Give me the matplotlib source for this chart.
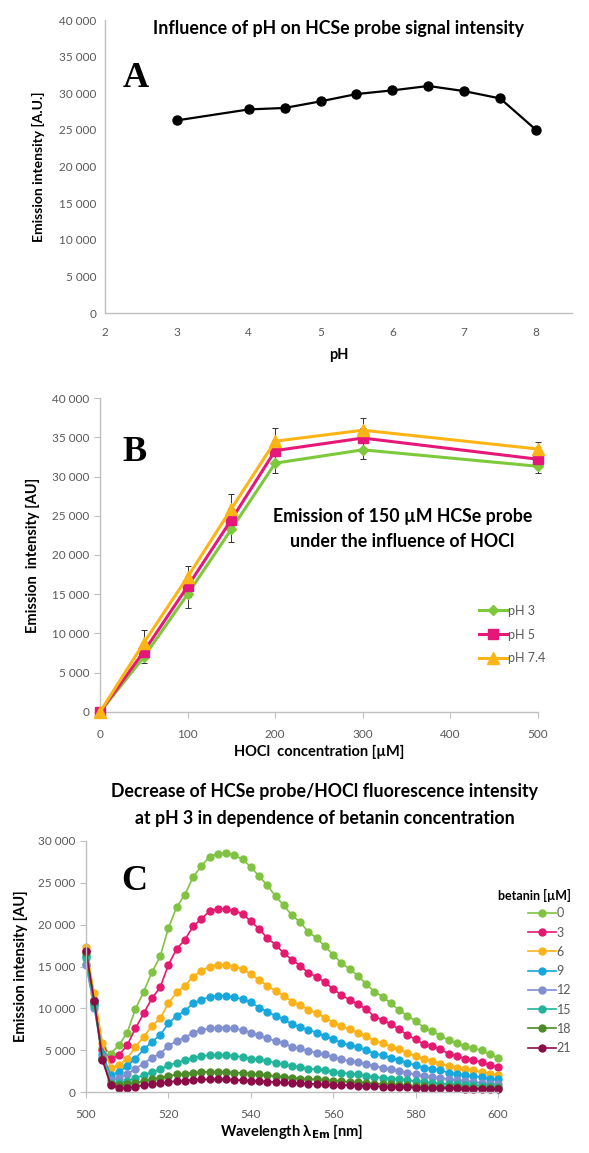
import matplotlib
matplotlib.use("Agg")
import matplotlib.pyplot as plt
from matplotlib.ticker import FuncFormatter, MultipleLocator

plt.rcParams['font.family'] = ['Lato', 'DejaVu Sans']

# ---------------- Panel A data ----------------
ph_values = [3, 4, 4.5, 5, 5.5, 6, 6.5, 7, 7.5, 8]
ph_intensity = [26300, 27800, 28000, 28900, 29900, 30400, 31000, 30300, 29300, 25000]

# ---------------- Panel B data ----------------
hocl_conc = [0, 50, 100, 150, 200, 300, 500]
b_ph3 = [0, 7000, 15000, 23300, 31700, 33400, 31300]
b_ph5 = [0, 7700, 16000, 24500, 33300, 34900, 32200]
b_ph74 = [0, 8800, 17200, 25900, 34500, 35900, 33500]
err_ph3 = [0, 800, 1700, 1600, 1200, 1200, 900]
err_ph5 = [0, 1000, 1300, 1500, 1300, 1300, 1000]
err_ph74 = [0, 1600, 1400, 1900, 1700, 1500, 900]
b_labels = ['pH 3', 'pH 5', 'pH 7.4']

# ---------------- Panel C data ----------------
wavelength = list(range(500, 602, 2))
betanin_labels = ['0', '3', '6', '9', '12', '15', '18', '21']
c_0 = [15300, 10500, 5300, 4600, 5600, 7100, 9900, 12000, 14300, 16200, 19600, 22100, 23600, 25700,
       27000, 28100, 28500, 28600, 28300, 27800, 26900, 25800, 24700, 23400, 22300, 21100, 20300,
       19100, 18400, 17400, 16400, 15400, 14700, 13900, 12900, 12000, 11400, 10600, 9800, 9100,
       8500, 7700, 7300, 6700, 6200, 5800, 5500, 5200, 5000, 4500, 4100]
c_3 = [16800, 11000, 5000, 3900, 4400, 5600, 7600, 9400, 11200, 12500, 15200, 17100, 18200, 19800,
       20700, 21600, 21900, 21900, 21600, 21300, 20400, 19500, 18400, 17600, 16600, 15800, 15100,
       14200, 13800, 13100, 12300, 11600, 11000, 10500, 9900, 9000, 8600, 8100, 7500, 6800,
       6300, 5700, 5500, 5100, 4600, 4300, 4000, 3800, 3600, 3200, 3000]
c_6 = [17300, 11800, 5800, 2900, 3200, 4000, 5400, 6600, 7900, 8800, 10600, 11900, 12700, 13800,
       14500, 15000, 15200, 15200, 15000, 14700, 14100, 13400, 12700, 12100, 11500, 10800, 10400,
       9800, 9400, 8900, 8300, 7900, 7500, 7100, 6700, 6100, 5800, 5400, 5100, 4700,
       4300, 3900, 3700, 3400, 3100, 2900, 2700, 2600, 2400, 2200, 2000]
c_9 = [16300, 10600, 4600, 2000, 2400, 3100, 4000, 5100, 6000, 6800, 8200, 9100, 9700, 10600,
       11000, 11400, 11500, 11500, 11300, 11100, 10700, 10100, 9600, 9100, 8700, 8100, 7800,
       7400, 7100, 6700, 6300, 5900, 5600, 5400, 5000, 4600, 4400, 4100, 3800, 3500,
       3200, 2900, 2800, 2600, 2300, 2200, 2000, 1900, 1800, 1600, 1500]
c_12 = [15200, 10100, 4200, 1400, 1700, 2100, 2800, 3400, 4100, 4600, 5500, 6100, 6500, 7100,
        7400, 7600, 7700, 7700, 7600, 7400, 7100, 6800, 6400, 6100, 5800, 5400, 5200,
        4900, 4700, 4500, 4200, 3900, 3700, 3600, 3300, 3100, 2900, 2700, 2500, 2300,
        2100, 1900, 1800, 1700, 1500, 1400, 1300, 1200, 1100, 1000, 1000]
c_15 = [16000, 10400, 4000, 1100, 1100, 1300, 1700, 2000, 2400, 2700, 3200, 3500, 3800, 4100,
        4300, 4400, 4400, 4400, 4300, 4200, 4000, 3900, 3700, 3500, 3300, 3100, 3000,
        2800, 2700, 2600, 2400, 2300, 2200, 2100, 1900, 1800, 1700, 1600, 1500, 1400,
        1300, 1200, 1100, 1000, 950, 900, 850, 800, 750, 700, 650]
c_18 = [16600, 10900, 3900, 900, 800, 900, 1100, 1300, 1500, 1700, 1900, 2100, 2200, 2300,
        2400, 2400, 2400, 2400, 2300, 2300, 2200, 2100, 2000, 1900, 1800, 1700, 1600,
        1550, 1500, 1400, 1350, 1300, 1200, 1150, 1100, 1000, 950, 900, 850, 800,
        750, 700, 650, 600, 580, 550, 520, 500, 480, 450, 420]
c_21 = [16900, 10900, 3800, 800, 500, 500, 650, 800, 950, 1050, 1200, 1300, 1350, 1450,
        1500, 1500, 1500, 1500, 1450, 1400, 1350, 1300, 1250, 1200, 1150, 1100, 1050,
        1000, 950, 900, 870, 830, 800, 760, 720, 680, 650, 620, 590, 560,
        530, 500, 480, 460, 440, 420, 400, 380, 360, 340, 320]
c_series = [c_0, c_3, c_6, c_9, c_12, c_15, c_18, c_21]
c_colors = ['#80c342', '#e4196f', '#fbb118', '#17a7dd', '#7f8fcf', '#22b39b', '#4d8a28', '#8a0d47']

AXIS_GREY = '#bfbfbf'
TICK_GREY = '#595959'
TITLE_FS = 12.8
LETTER_FS = 26

def space_fmt(v, pos):
    return f"{v:,.0f}".replace(",", " ")

def style_axes(ax, ticks=True):
    for s in ['top', 'right']:
        ax.spines[s].set_visible(False)
    for s in ['left', 'bottom']:
        ax.spines[s].set_color(AXIS_GREY)
        ax.spines[s].set_linewidth(1.0)
    ax.tick_params(colors=AXIS_GREY, labelcolor=TICK_GREY, labelsize=8.5,
                   length=4 if ticks else 0, width=0.8, direction='out')
    ax.yaxis.set_major_formatter(FuncFormatter(space_fmt))

fig = plt.figure(figsize=(5.89, 11.53), dpi=100)

# ---------------- Panel A ----------------
axA = fig.add_axes([0.1783, 0.7285, 0.7929, 0.2541])
axA.plot(ph_values, ph_intensity, color='black', lw=1.6, marker='o', ms=6.5)
axA.set_xlim(2, 8.5)
axA.set_ylim(0, 40000)
axA.xaxis.set_major_locator(MultipleLocator(1))
axA.yaxis.set_major_locator(MultipleLocator(5000))
style_axes(axA, ticks=False)
axA.tick_params(axis='x', pad=10)
axA.tick_params(axis='y', pad=6)
axA.set_xlabel('pH', fontsize=10.5, fontweight='bold', labelpad=7)
axA.set_ylabel('Emission intensity [A.U.]', fontsize=10, fontweight='bold', labelpad=10)
axA.text(5.25, 38900, 'Influence of pH on HCSe probe signal intensity', ha='center', va='center',
         fontsize=TITLE_FS, fontweight='bold')
axA.text(2.42, 32000, 'A', ha='center', va='center', fontsize=LETTER_FS, fontweight='bold',
         family='Liberation Serif')

# ---------------- Panel B ----------------
axB = fig.add_axes([0.1698, 0.3825, 0.7436, 0.2723])
b_series = [b_ph3, b_ph5, b_ph74]
b_errs = [err_ph3, err_ph5, err_ph74]
b_colors = ['#7dc93c', '#e5187a', '#fdb515']
b_markers = ['D', 's', '^']
b_ms = [5, 7, 8]
b_handles = []
for ys, es, col, mk, ms, lab in zip(b_series, b_errs, b_colors, b_markers, b_ms, b_labels):
    cont = axB.errorbar(hocl_conc, ys, yerr=es, color=col, lw=2.2, marker=mk, ms=ms,
                        ecolor='#333333', elinewidth=0.7, capsize=2.5, capthick=0.7, label=lab,
                        clip_on=False, zorder=3)
    b_handles.append(cont[0])
axB.set_xlim(0, 500)
axB.set_ylim(0, 40000)
axB.xaxis.set_major_locator(MultipleLocator(100))
axB.yaxis.set_major_locator(MultipleLocator(5000))
style_axes(axB)
axB.tick_params(axis='x', pad=8)
axB.set_xlabel('HOCl  concentration [µM]', fontsize=10.5, fontweight='bold', labelpad=4)
axB.set_ylabel('Emission  intensity [AU]', fontsize=10.5, fontweight='bold', labelpad=9)
axB.text(345, 23300, 'Emission of 150 µM HCSe probe\nunder the influence of HOCl', ha='center',
         va='center', fontsize=TITLE_FS, fontweight='bold', linespacing=1.55)
axB.text(39, 33000, 'B', ha='center', va='center', fontsize=LETTER_FS, fontweight='bold',
         family='Liberation Serif')
legB = axB.legend(handles=b_handles, labels=b_labels, loc='upper left', bbox_to_anchor=(427, 14300),
                  bbox_transform=axB.transData, frameon=False, fontsize=9, handlelength=2.2,
                  handletextpad=0.1, labelspacing=0.95, borderaxespad=0)
for t in legB.get_texts():
    t.set_color(TICK_GREY)

# ---------------- Panel C ----------------
axC = fig.add_axes([0.1460, 0.0529, 0.6995, 0.2177])
for ys, col, lab in zip(c_series, c_colors, betanin_labels):
    axC.plot(wavelength, ys, color=col, lw=1.2, marker='o', ms=5, label=lab, clip_on=False)
axC.set_xlim(500, 600)
axC.set_ylim(0, 30000)
axC.xaxis.set_major_locator(MultipleLocator(20))
axC.yaxis.set_major_locator(MultipleLocator(5000))
style_axes(axC)
axC.tick_params(axis='x', pad=8)
axC.set_xlabel('Wavelength λ$_{\\mathbf{Em}}$ [nm]', fontsize=10.5, fontweight='bold', labelpad=2)
axC.set_ylabel('Emission intensity [AU]', fontsize=10.5, fontweight='bold', labelpad=7)
axC.text(558, 34300, 'Decrease of HCSe probe/HOCl fluorescence intensity\nat pH 3 in dependence of betanin concentration',
         ha='center', va='center', fontsize=TITLE_FS, fontweight='bold', linespacing=1.75)
axC.text(511.7, 25100, 'C', ha='center', va='center', fontsize=LETTER_FS, fontweight='bold',
         family='Liberation Serif')
legC = axC.legend(loc='upper right', bbox_to_anchor=(619, 24900), bbox_transform=axC.transData,
                  frameon=False, fontsize=9, handlelength=2.2, handletextpad=0.1,
                  labelspacing=0.58, borderaxespad=0, title='betanin [µM]',
                  title_fontproperties={'weight': 'bold', 'size': 9})
legC._legend_box.align = 'right'
legC._legend_box.sep = 4
for t in legC.get_texts():
    t.set_color(TICK_GREY)

fig.savefig('out.png', dpi=100)
